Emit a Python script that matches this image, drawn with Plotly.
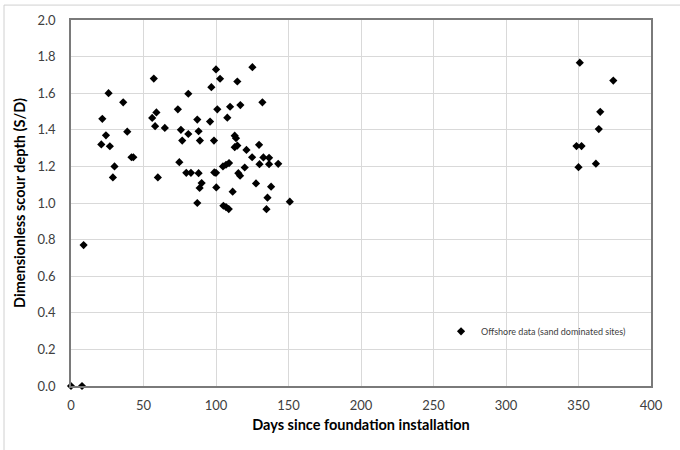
import plotly.graph_objects as go

# Days since installation and dimensionless scour depth (S/D)
days = [0, 7.6, 8.7,
        20.9, 21.6, 24.1, 25.9, 26.8, 28.9, 30.0, 36.0, 38.8, 41.7, 43.0,
        56.0, 57.1, 58.0, 58.9, 59.9, 64.7,
        100.0, 125.1, 102.8, 114.7, 96.8, 80.9, 73.7, 100.9, 109.7, 116.8,
        132.0, 87.1, 95.9, 107.8, 75.8, 80.9, 88.0, 76.7, 88.9, 98.6,
        112.9, 113.8, 112.9, 114.7, 121.0, 129.7, 124.9, 132.7, 136.6, 74.7,
        104.8, 106.9, 109.0, 130.0, 136.6, 142.9, 119.8, 79.5, 82.7, 88.0,
        98.8, 100.0, 115.4, 116.6, 90.1, 88.7, 100.2, 127.6, 138.0, 111.5,
        135.5, 87.1, 105.1, 106.9, 108.8, 134.8, 150.9,
        348.6, 350.0, 350.9, 352.1, 362.0, 364.0, 365.0, 374.0]
scour = [0.0, 0.0, 0.77,
         1.32, 1.46, 1.37, 1.60, 1.31, 1.14, 1.20, 1.55, 1.39, 1.25, 1.25,
         1.465, 1.68, 1.42, 1.495, 1.14, 1.41,
         1.73, 1.742, 1.679, 1.664, 1.633, 1.597, 1.512, 1.512, 1.526, 1.535,
         1.55, 1.456, 1.445, 1.466, 1.40, 1.377, 1.392, 1.341, 1.341, 1.341,
         1.368, 1.354, 1.305, 1.314, 1.29, 1.318, 1.25, 1.249, 1.247, 1.223,
         1.20, 1.209, 1.218, 1.212, 1.212, 1.214, 1.194, 1.165, 1.165, 1.163,
         1.167, 1.165, 1.163, 1.149, 1.109, 1.082, 1.085, 1.107, 1.089, 1.062,
         1.029, 1.00, 0.985, 0.978, 0.967, 0.966, 1.007,
         1.311, 1.196, 1.767, 1.311, 1.215, 1.404, 1.498, 1.669]

series_name = "Offshore data (sand dominated sites)"
x_ticks = [0, 50, 100, 150, 200, 250, 300, 350, 400]
y_ticks = [0.0, 0.2, 0.4, 0.6, 0.8, 1.0, 1.2, 1.4, 1.6, 1.8, 2.0]
x_title = "Days since foundation installation"
y_title = "Dimensionless scour depth (S/D)"

FONT = "Lato, 'Open Sans', sans-serif"

fig = go.Figure()
fig.add_trace(go.Scatter(
    x=days, y=scour, mode="markers", name=series_name,
    marker=dict(symbol="diamond", size=6.3, color="black", line=dict(width=0)),
    cliponaxis=False,
))

fig.update_layout(
    width=680, height=450,
    margin=dict(l=71, r=29, t=18, b=64),
    paper_bgcolor="white", plot_bgcolor="white",
    font=dict(family=FONT, color="#404040", size=13),
    showlegend=True,
    legend=dict(x=0.638, y=0.1495, xanchor="left", yanchor="middle",
                font=dict(size=9, color="#404040"), itemwidth=30,
                bgcolor="rgba(0,0,0,0)"),
    xaxis=dict(range=[0, 400], tickvals=x_ticks,
               ticktext=[str(v) for v in x_ticks],
               tickfont=dict(size=13, color="#404040"),
               showgrid=True, gridcolor="#d9d9d9", gridwidth=1,
               showline=True, linecolor="#7a7a7a", linewidth=1.6, mirror=True,
               zeroline=False, ticks="", ticklabelstandoff=7,
               title=dict(text="<b>" + x_title + "</b>",
                          font=dict(size=14.5, color="black"), standoff=7)),
    yaxis=dict(range=[0, 2.0], tickvals=y_ticks,
               ticktext=["%.1f" % v for v in y_ticks],
               tickfont=dict(size=13, color="#404040"),
               showgrid=True, gridcolor="#d9d9d9", gridwidth=1,
               showline=True, linecolor="#7a7a7a", linewidth=1.6, mirror=True,
               zeroline=False, ticks="", ticklabelstandoff=11,
               title=dict(text="<b>" + y_title + "</b>",
                          font=dict(size=14.5, color="black"), standoff=8)),
    shapes=[
        dict(type="line", xref="paper", yref="paper",
             x0=-0.1155, x1=-0.1155, y0=-0.2, y1=1.0408,
             line=dict(color="#d0d0d0", width=1)),
        dict(type="line", xref="paper", yref="paper",
             x0=-0.1155, x1=1.2, y0=1.0408, y1=1.0408,
             line=dict(color="#d0d0d0", width=1)),
    ],
)

fig.write_html("out.html", config={"displayModeBar": False},
               post_script="document.body.style.margin='0px';")
